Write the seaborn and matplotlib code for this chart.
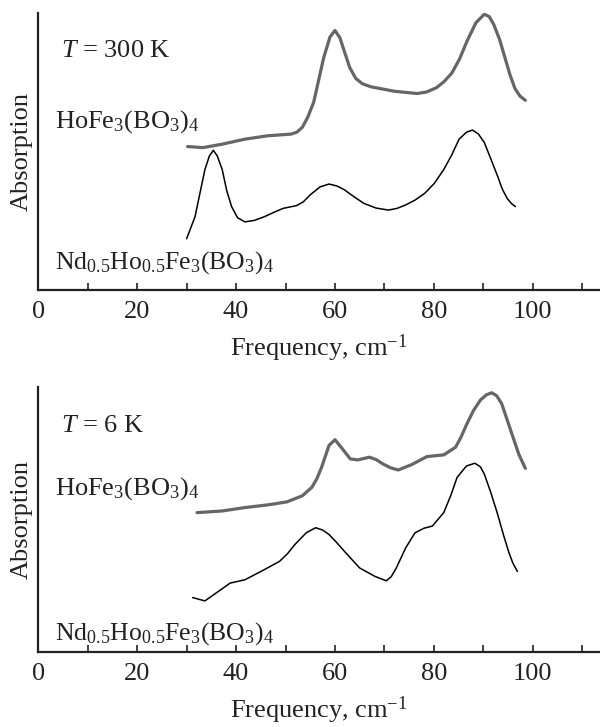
import numpy as np
import pandas as pd
import matplotlib
matplotlib.use("Agg")
import matplotlib.pyplot as plt
import seaborn as sns

# --- datos (unidades arbitrarias de absorción) ---
ho_300_x = [30.2, 33.3, 37.2, 41.8, 46.4, 51.1, 52.3, 53.4, 54.5, 55.7, 56.7, 57.7, 59.0, 60.0, 61.0,
            61.9, 63.0, 64.2, 65.5, 67.3, 72.0, 76.6, 78.5, 80.5, 82.0, 83.6, 85.2, 86.7, 88.5, 90.2,
            91.2, 92.1, 93.3, 94.4, 95.4, 96.4, 97.4, 98.5]
ho_300_y = [162.7, 161.5, 165.4, 171.1, 174.9, 176.8, 179, 184.5, 196, 213, 238, 263, 287, 294.3, 286,
            270.6, 252, 240, 234, 230.4, 225.4, 222.8, 224.5, 229.3, 236, 245.7, 262, 282.1, 303, 312.7,
            310, 301.2, 284, 263, 244, 228.5, 220, 215.1]

nd_300_x = [30.0, 31.7, 32.7, 33.7, 34.6, 35.4, 36.2, 37.2, 38.1, 39.1, 40.3, 41.8, 43.7, 45.7, 47.6,
            49.5, 52.2, 53.6, 55.0, 57.0, 58.8, 60.4, 61.9, 63.8, 65.8, 68.3, 70.8, 72.5, 74.3, 76.2,
            78.2, 80.1, 82.0, 83.6, 85.1, 86.6, 87.8, 89.0, 90.2, 91.5, 92.9, 93.8, 94.8, 95.7, 96.5]
nd_300_y = [58.2, 83.1, 110, 136.6, 152, 158.5, 152, 136.6, 113, 94.6, 82, 77.3, 79, 83.1, 88,
            92.6, 95.7, 100, 108, 117, 120.2, 118, 113.7, 106, 98.4, 93, 90.7, 92.5, 96.5, 102,
            109.9, 121, 136.6, 153, 171.1, 179, 181.4, 177, 167.3, 149, 129, 115, 104.1, 98, 94.6]

ho_6_x = [32.1, 37.2, 41.8, 46.4, 50.3, 53.4, 55.3, 56.3, 57.3, 58.8, 60.0, 61.5, 63.1, 64.6, 67.0,
          68.4, 69.7, 71.2, 72.8, 75.5, 78.6, 82.0, 84.4, 85.5, 86.7, 88.0, 89.4, 90.6, 91.7, 92.7,
          93.7, 94.8, 96.0, 97.2, 98.5]
ho_6_y = [158.8, 160.7, 164.6, 167.6, 171.1, 178, 187.5, 197, 210.5, 235.4, 241.9, 231.5, 220, 218.9, 222,
          219, 214.3, 210, 207.4, 213.5, 222.7, 224.6, 233.4, 245, 260.2, 275, 287, 293, 295.4, 292,
          283.2, 265, 244.9, 225, 209.3]

nd_6_x = [31.2, 33.7, 36.4, 38.8, 41.8, 45.7, 48.8, 50.4, 51.9, 54.2, 56.1, 57.5, 58.8, 60.3, 61.9,
          65.0, 68.1, 70.4, 71.4, 72.4, 74.3, 76.2, 78.0, 79.7, 82.0, 83.4, 84.7, 86.6, 88.3, 89.4,
          90.2, 91.5, 92.9, 94.1, 95.2, 96.0, 96.9]
nd_6_y = [62, 58.2, 68.9, 78.5, 82.3, 93.8, 103.3, 112, 122.5, 135.9, 141.6, 139, 133.9, 125, 114.8,
          95.7, 86.1, 81.1, 86, 95.7, 118.6, 135.9, 141, 143.5, 158.8, 178, 199, 212, 215.1, 211,
          202.8, 182, 156.9, 133, 112.9, 101, 91.8]

X_TICKS = [0, 20, 40, 60, 80, 100]
TEMPS = ["$T$ = 300 K", "$T$ = 6 K"]
LABEL_HO = "HoFe$_3$(BO$_3$)$_4$"
LABEL_ND = "Nd$_{0.5}$Ho$_{0.5}$Fe$_3$(BO$_3$)$_4$"

# --- estilo ---
sns.set_style("ticks")
plt.rcParams['font.family'] = ['Liberation Serif', 'DejaVu Serif']
plt.rcParams['mathtext.fontset'] = 'custom'
plt.rcParams['mathtext.rm'] = 'Liberation Serif'
plt.rcParams['mathtext.it'] = 'Liberation Serif:italic'
FS = 19
GRAY = '#666666'
INK = '#222222'

fig = plt.figure(figsize=(6, 7.27), dpi=100)
ax_top = fig.add_axes([0.0638, 0.601, 0.9362, 0.381])
ax_bot = fig.add_axes([0.0638, 0.1032, 0.9362, 0.3645])

panels = [
    (ax_top, ho_300_x, ho_300_y, nd_300_x, nd_300_y, 314,
     [(4.6, 264), (3.3, 184.5), (3.3, 24)]),
    (ax_bot, ho_6_x, ho_6_y, nd_6_x, nd_6_y, 302,
     [(4.6, 250.5), (3.3, 179), (3.3, 14)]),
]

for k, (ax, hx, hy, nx, ny, ytop, txt) in enumerate(panels):
    sns.lineplot(x=hx, y=hy, sort=False, estimator=None, color=GRAY, lw=2.3, ax=ax)
    sns.lineplot(x=nx, y=ny, sort=False, estimator=None, color='black', lw=1.1, ax=ax)

    ax.set_xlim(0, 113.6)
    ax.set_ylim(0, ytop)
    ax.set_xticks(X_TICKS)
    ax.set_xticks(np.arange(10, 111, 20), minor=True)
    ax.set_yticks([])
    ax.tick_params(axis='x', which='both', direction='in', length=5, width=1.2,
                   labelsize=FS, pad=8, color=INK, labelcolor=INK)
    for side in ['top', 'right']:
        ax.spines[side].set_visible(False)
    for side in ['left', 'bottom']:
        ax.spines[side].set_linewidth(1.6)
        ax.spines[side].set_color(INK)

    ax.set_xlabel("Frequency, cm$^{-1}$", fontsize=FS, labelpad=7, color=INK)
    ax.set_ylabel("Absorption", fontsize=FS, labelpad=4, color=INK)

    ax.text(txt[0][0], txt[0][1], TEMPS[k], fontsize=FS, ha='left', va='baseline', color=INK)
    ax.text(txt[1][0], txt[1][1], LABEL_HO, fontsize=FS, ha='left', va='baseline', color=INK)
    ax.text(txt[2][0], txt[2][1], LABEL_ND, fontsize=FS - 0.5, ha='left', va='baseline', color=INK)

fig.savefig("out.png", dpi=100)
